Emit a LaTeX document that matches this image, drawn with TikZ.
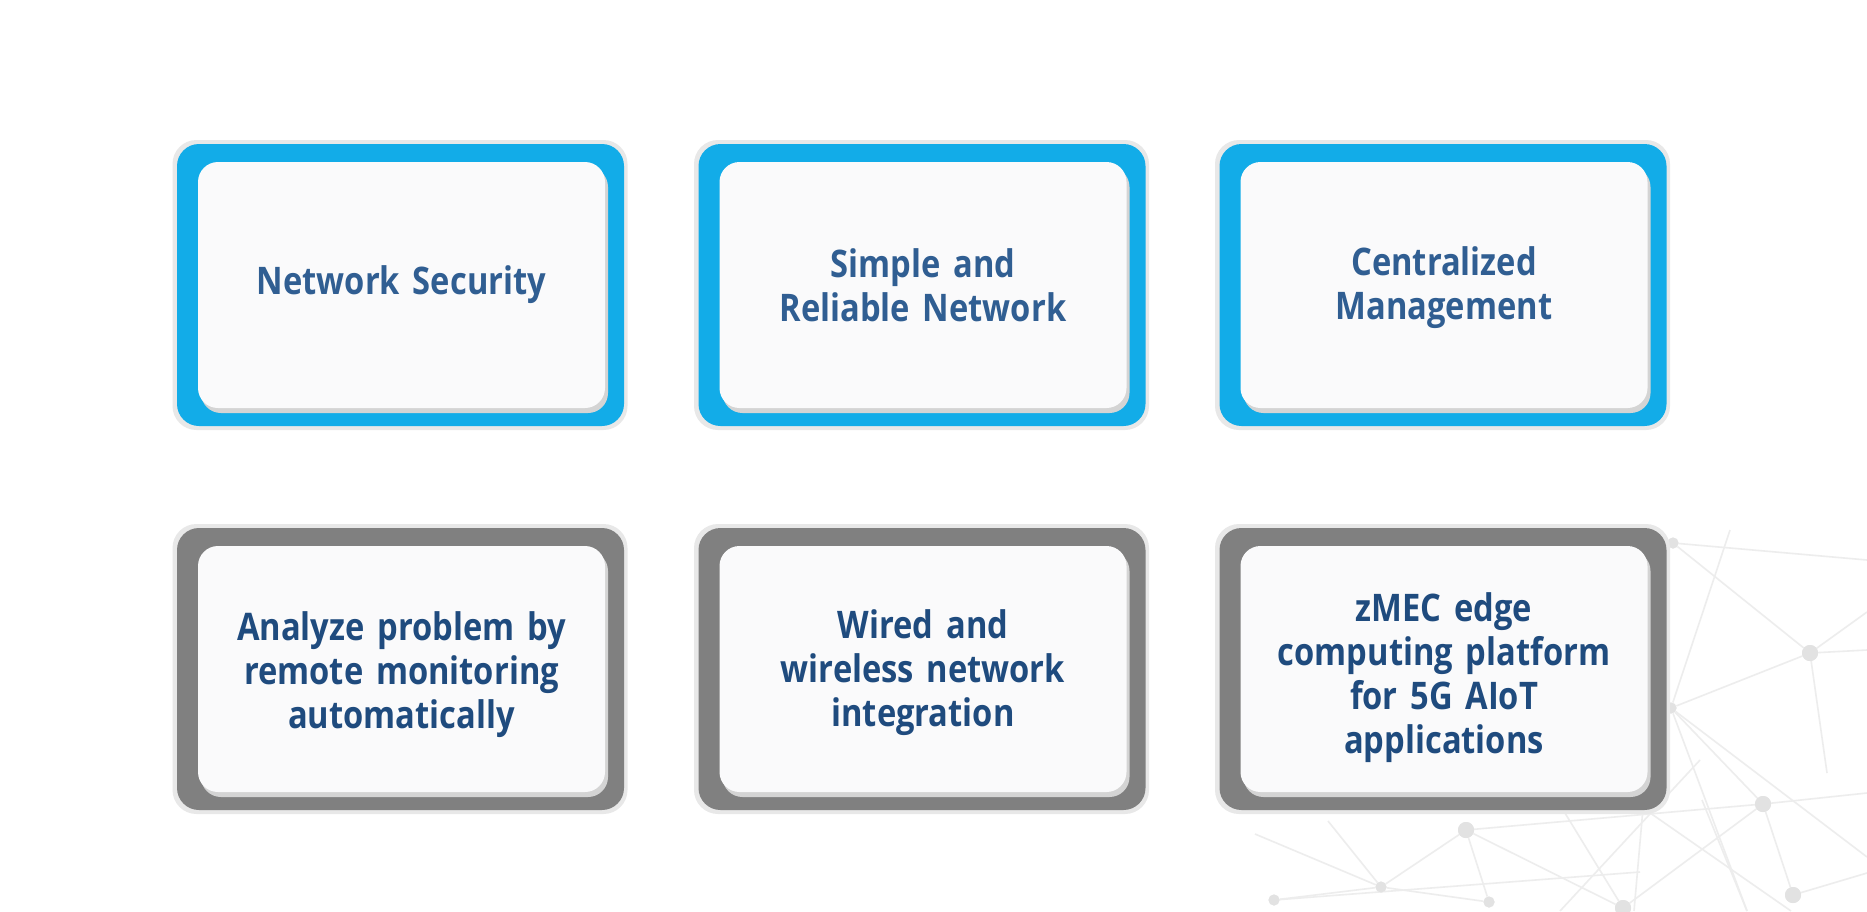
\documentclass[tikz,border=0pt]{standalone}
\usepackage{fontspec}
\setmainfont{Open Sans}[FakeStretch=0.86,WordSpace=1.5]
\definecolor{cardblue}{HTML}{12ACE8}
\definecolor{cardgray}{HTML}{808080}
\definecolor{rimgray}{HTML}{E8E8E8}
\definecolor{shadowgray}{HTML}{D4D4D4}
\definecolor{facewhite}{HTML}{FAFAFB}
\definecolor{txtblue}{HTML}{305E92}
\definecolor{txtdark}{HTML}{1F4B7E}
\definecolor{netline}{HTML}{EDEDED}
\definecolor{netdot}{HTML}{E2E2E2}
\begin{document}
\begin{tikzpicture}[x=1pt,y=-1pt,
  rim/.style={fill=rimgray, rounded corners=24pt, minimum width=455pt, minimum height=290pt, inner sep=0pt},
  framebox/.style={rounded corners=22pt, minimum width=447pt, minimum height=282pt, inner sep=0pt},
  shadowbox/.style={fill=shadowgray, rounded corners=20pt, minimum width=407pt, minimum height=246pt, inner sep=0pt},
  face/.style={fill=facewhite, rounded corners=20pt, minimum width=407pt, minimum height=246pt, inner sep=0pt},
  label/.style={align=center, inner sep=0pt, font=\bfseries\fontsize{38}{44}\selectfont},
  netedge/.style={draw=netline, line width=1.6pt},
  netnode/.style={circle, fill=netdot, inner sep=0pt, minimum size=16pt},
  netsmall/.style={circle, fill=netdot, inner sep=0pt, minimum size=11pt},
]
\useasboundingbox[fill=white] (0,0) rectangle (1867,911);

% background network pattern
\node[netnode] (p1) at (1810,653) {};
\node[netnode] (p2) at (1763,804) {};
\node[netnode] (p3) at (1793,895) {};
\node[netnode] (p4) at (1466,830) {};
\node[netsmall] (p5) at (1381,887) {};
\node[netsmall] (p6) at (1274,900) {};
\node[netsmall] (p7) at (1489,902) {};
\node[netnode] (p8) at (1623,908) {};
\node[netsmall] (p9) at (1673,543) {};
\node[netsmall] (p10) at (1671,708) {};
\coordinate (e1) at (1867,560);
\coordinate (e2) at (1867,650);
\coordinate (e3) at (1867,612);
\coordinate (e4) at (1867,793);
\coordinate (e5) at (1867,873);
\coordinate (e6) at (1867,857);
\coordinate (e7) at (1747,911);
\coordinate (e8) at (1827,773);
\coordinate (e9) at (1730,530);
\coordinate (e10) at (1557,800);
\coordinate (e11) at (1643,808);
\coordinate (e12) at (1634,911);
\coordinate (e13) at (1791,911);
\coordinate (e14) at (1702,800);
\coordinate (e15) at (1328,821);
\coordinate (e16) at (1255,834);
\coordinate (e17) at (1640,872);
\coordinate (e18) at (1700,760);
\coordinate (e19) at (1560,911);
\draw[netedge] (p9) -- (e1);
\draw[netedge] (p9) -- (p1);
\draw[netedge] (p1) -- (p10);
\draw[netedge] (p1) -- (e8);
\draw[netedge] (p1) -- (e2);
\draw[netedge] (p1) -- (e3);
\draw[netedge] (p10) -- (p2);
\draw[netedge] (p10) -- (e7);
\draw[netedge] (p10) -- (e6);
\draw[netedge] (e9) -- (p10);
\draw[netedge] (p2) -- (e4);
\draw[netedge] (p2) -- (p3);
\draw[netedge] (p3) -- (e5);
\draw[netedge] (p4) -- (p2);
\draw[netedge] (p4) -- (p5);
\draw[netedge] (p4) -- (p7);
\draw[netedge] (p4) -- (p8);
\draw[netedge] (p5) -- (p6);
\draw[netedge] (p5) -- (p7);
\draw[netedge] (e10) -- (p8);
\draw[netedge] (e11) -- (e12);
\draw[netedge] (e11) -- (e13);
\draw[netedge] (p2) -- (p8);
\draw[netedge] (e14) -- (e7);
\draw[netedge] (e15) -- (p5);
\draw[netedge] (e16) -- (p5);
\draw[netedge] (p6) -- (e17);
\draw[netedge] (e18) -- (e19);
% redraw dots above lines
\foreach \p in {p1,p2,p3,p4,p8}{\fill[netdot] (\p) circle (8pt);}
\foreach \p in {p5,p6,p7,p9,p10}{\fill[netdot] (\p) circle (5.5pt);}

% cards
\foreach \n/\cx/\cy/\col in {a/400.5/285/cardblue, b/922/285/cardblue, c/1443/285/cardblue,
                             d/400.5/669/cardgray, e/922/669/cardgray, f/1443/669/cardgray}{
  \node[rim] (rim\n) at (\cx-0.5,\cy) {};
  \node[framebox, fill=\col] (frame\n) at (\cx,\cy) {};
  \node[shadowbox] (shadow\n) at (\cx+4,\cy+5) {};
  \node[face] (face\n) at (\cx+1,\cy) {};
}
\node[label, text=txtblue] (texta) at (401.5,285) {Network Security};
\node[label, text=txtblue] (textb) at (923,285) {Simple and\\Reliable Network};
\node[label, text=txtblue] (textc) at (1444,288) {Centralized\\Management};
\node[label, text=txtdark] (textd) at (401.5,675) {Analyze problem by\\remote monitoring\\automatically};
\node[label, text=txtdark] (texte) at (923,673) {Wired and\\wireless network\\integration};
\node[label, text=txtdark] (textf) at (1444,678) {zMEC edge\\computing platform\\for 5G AIoT\\applications};
\end{tikzpicture}
\end{document}
